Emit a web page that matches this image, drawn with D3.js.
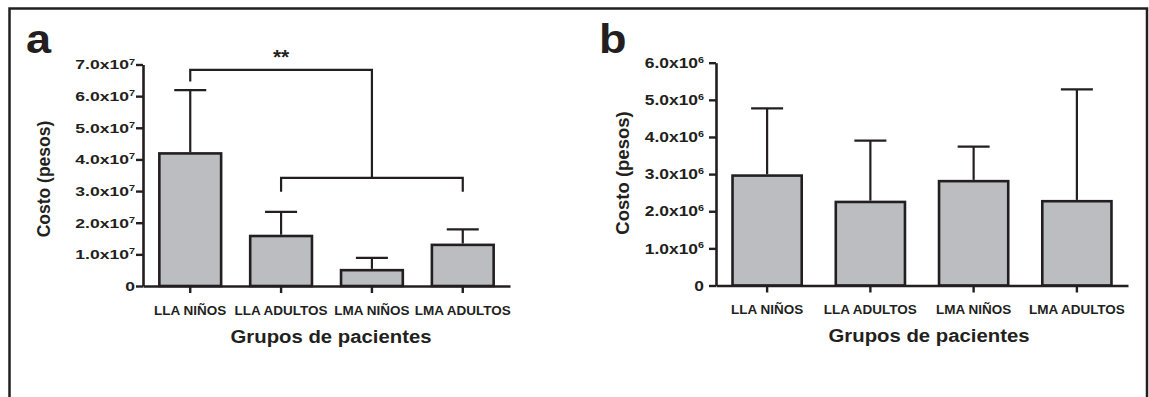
<!DOCTYPE html>
<html>
<head>
<meta charset="utf-8">
<script src="https://cdn.jsdelivr.net/npm/d3@7"></script>
<style>
  body { margin: 0; background: #fff; }
  svg { display: block; }
  svg text { font-family: "Liberation Sans", Arial, sans-serif; font-weight: 700; }
</style>
</head>
<body>
<svg width="1149" height="397"></svg>
<script>
// data
const groups = ["LLA NIÑOS", "LLA ADULTOS", "LMA NIÑOS", "LMA ADULTOS"];

// panel a: total cost
const costA = [4.19e7, 1.58e7, 0.50e7, 1.30e7];
const sdA = [2.00e7, 0.76e7, 0.39e7, 0.49e7];
const ticksA = [0, 1e7, 2e7, 3e7, 4e7, 5e7, 6e7, 7e7];

// panel b
const costB = [2.96e6, 2.25e6, 2.81e6, 2.27e6];
const sdB = [1.81e6, 1.65e6, 0.93e6, 3.01e6];
const ticksB = [0, 1e6, 2e6, 3e6, 4e6, 5e6, 6e6];

// significance bracket of panel a (values in pesos)
const sigA = { from: "LLA NIÑOS", to: ["LLA ADULTOS", "LMA ADULTOS"],
  top: 6.83e7, fromEnd: 6.46e7, low: 3.42e7, toEnd: 2.98e7, label: "**" };

const ink = "#231f20";
const svg = d3.select("svg");

// frame
svg.append("rect")
  .attr("x", 9.5).attr("y", 8.5)
  .attr("width", 1137.5).attr("height", 420)
  .attr("fill", "none").attr("stroke", ink).attr("stroke-width", 2.5);

function fmt(v) {
  if (v === 0) return { main: "0", sup: "" };
  const e = Math.floor(Math.log10(v));
  return { main: (v / Math.pow(10, e)).toFixed(1) + "x10", sup: String(e) };
}

function drawPanel(p) {
  const g = svg.append("g");

  const x = d3.scaleBand().domain(groups).range(p.xr)
    .paddingInner(p.padIn).paddingOuter(p.padOut);
  const y = d3.scaleLinear().domain([0, d3.max(p.ticks)]).range(p.yr);

  // bars
  g.selectAll("rect.bar").data(groups).join("rect")
    .attr("class", "bar")
    .attr("x", d => x(d))
    .attr("width", x.bandwidth())
    .attr("y", (d, i) => y(p.mean[i]))
    .attr("height", (d, i) => y(0) - y(p.mean[i]))
    .attr("fill", "#bcbdc0")
    .attr("stroke", ink).attr("stroke-width", 2.6);

  // upper error bars
  const eb = g.selectAll("g.err").data(groups).join("g").attr("class", "err")
    .attr("stroke", ink).attr("stroke-width", 2.2);
  eb.append("line")
    .attr("x1", d => x(d) + x.bandwidth() / 2).attr("x2", d => x(d) + x.bandwidth() / 2)
    .attr("y1", (d, i) => y(p.mean[i]) - 1.3)
    .attr("y2", (d, i) => y(p.mean[i] + p.sd[i]));
  eb.append("line")
    .attr("x1", d => x(d) + x.bandwidth() / 2 - 16).attr("x2", d => x(d) + x.bandwidth() / 2 + 16)
    .attr("y1", (d, i) => y(p.mean[i] + p.sd[i]))
    .attr("y2", (d, i) => y(p.mean[i] + p.sd[i]));

  // x axis
  const xa = g.append("g").attr("transform", `translate(0,${y(0)})`)
    .call(d3.axisBottom(x).tickSize(7).tickSizeOuter(0));
  xa.attr("font-family", null).attr("font-size", null);
  xa.select(".domain").attr("stroke", ink).attr("stroke-width", 2.6);
  xa.selectAll(".tick line").attr("stroke", ink).attr("stroke-width", 2.4);
  xa.selectAll(".tick text")
    .attr("y", p.xLabY).attr("dy", 0)
    .attr("fill", ink)
    .style("font-size", "13.5px");

  // y axis
  const ya = g.append("g").attr("transform", `translate(${p.xr[0]},0)`)
    .call(d3.axisLeft(y).tickValues(p.ticks).tickSize(7).tickSizeOuter(0).tickFormat(""));
  ya.select(".domain").attr("stroke", ink).attr("stroke-width", 2.6);
  ya.selectAll(".tick line").attr("stroke", ink).attr("stroke-width", 2.4);

  p.ticks.forEach(t => {
    const f = fmt(t);
    const tx = g.append("text")
      .attr("transform", `translate(${p.xr[0] - p.labGap},${y(t) + p.tickFs * 0.36}) scale(${p.sx},1)`)
      .attr("text-anchor", "end")
      .attr("fill", ink)
      .style("font-size", p.tickFs + "px");
    tx.append("tspan").text(f.main);
    if (f.sup) {
      tx.append("tspan").text(f.sup)
        .attr("dy", -p.tickFs * 0.36)
        .style("font-size", (p.tickFs * 0.62) + "px");
    }
  });

  // axis titles
  g.append("text")
    .attr("transform", `translate(${p.xTitle[0]},${p.xTitle[1]}) scale(1.13,1)`)
    .attr("text-anchor", "middle").attr("fill", ink)
    .style("font-size", "18px")
    .text("Grupos de pacientes");
  g.append("text")
    .attr("transform", `translate(${p.yTitle[0]},${p.yTitle[1]}) rotate(-90)`)
    .attr("text-anchor", "middle").attr("fill", ink)
    .style("font-size", p.yTitleFs + "px")
    .text("Costo (pesos)");

  // panel letter
  g.append("text")
    .attr("transform", `translate(${p.letter[0]},${p.letter[1]}) scale(1.1,1)`)
    .attr("fill", ink)
    .style("font-size", "41px")
    .text(p.name);

  return { x, y, g };
}

const a = drawPanel({
  name: "a", mean: costA, sd: sdA, ticks: ticksA,
  xr: [143, 510], yr: [286, 64.5], padIn: 0.32, padOut: 0.18,
  tickFs: 13.5, sx: 1.3, labGap: 8, xLabY: 29,
  xTitle: [331, 343], yTitle: [50, 179], yTitleFs: 17.5,
  letter: [26, 53]
});

const b = drawPanel({
  name: "b", mean: costB, sd: sdB, ticks: ticksB,
  xr: [716, 1128], yr: [285.5, 62.7], padIn: 0.33, padOut: 0.16,
  tickFs: 14.5, sx: 1.2, labGap: 12, xLabY: 28,
  xTitle: [929, 342], yTitle: [629, 173], yTitleFs: 18.5,
  letter: [599, 53]
});

// significance bracket, panel a
(function () {
  const cx = d => a.x(d) + a.x.bandwidth() / 2;
  const x0 = cx(sigA.from);
  const l0 = cx(sigA.to[0]), l1 = cx(sigA.to[1]);
  const mid = (l0 + l1) / 2;
  const yy = a.y;
  const br = a.g.append("g").attr("fill", "none").attr("stroke", ink).attr("stroke-width", 2.2);
  br.append("path")
    .attr("d", `M${x0},${yy(sigA.fromEnd)}V${yy(sigA.top)}H${mid}V${yy(sigA.low)}`);
  br.append("path")
    .attr("d", `M${l0},${yy(sigA.toEnd)}V${yy(sigA.low)}H${l1}V${yy(sigA.toEnd)}`);
  a.g.append("text")
    .attr("x", (x0 + mid) / 2).attr("y", yy(sigA.top) - 6)
    .attr("text-anchor", "middle").attr("fill", ink)
    .style("font-size", "21px")
    .text(sigA.label);
})();
</script>
</body>
</html>
